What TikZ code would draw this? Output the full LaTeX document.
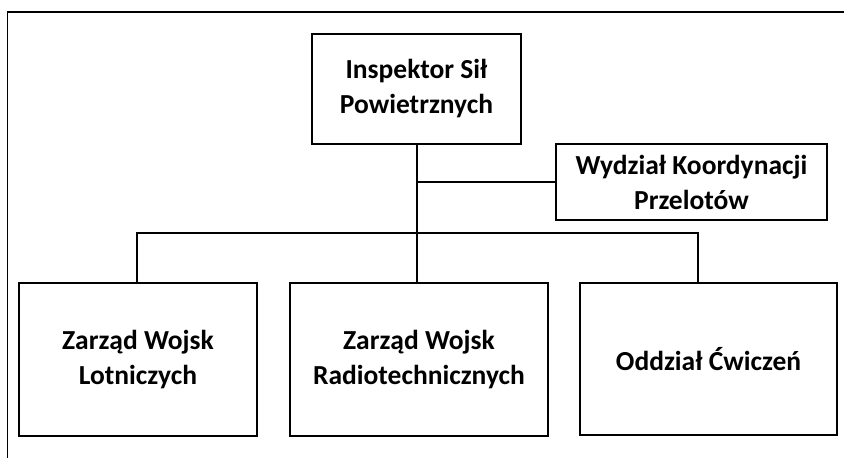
\documentclass[tikz,border=0pt]{standalone}
\usepackage{fontspec}
\setmainfont{Carlito}
\begin{document}
\begin{tikzpicture}[x=1pt,y=-1pt,
  unit/.style={draw=black, line width=2.4pt, align=center, inner sep=0pt,
    font=\bfseries\fontsize{27.5}{35}\selectfont, text=black},
  link/.style={draw=black, line width=2.1pt}]
  \useasboundingbox (0,0) rectangle (844,458);
  % page frame (left and top edges)
  \draw[line width=1.8pt] (7.5,458) -- (7.5,12) -- (844,12);

  % units
  \node[unit, minimum width=209pt, minimum height=110pt] (top) at (416.5,89)
    {Inspektor Sił\\Powietrznych};
  \node[unit, minimum width=271pt, minimum height=76pt] (wyd) at (691.5,182)
    {Wydział Koordynacji\\Przelotów};
  \node[unit, minimum width=238pt, minimum height=153pt] (zwl) at (138,359.5)
    {Zarząd Wojsk\\Lotniczych};
  \node[unit, minimum width=258pt, minimum height=153pt] (zwr) at (419,359.5)
    {Zarząd Wojsk\\Radiotechnicznych};
  \node[unit, minimum width=257pt, minimum height=152pt] (oc) at (708.5,359)
    {Oddział Ćwiczeń};

  % connectors
  \coordinate (bus) at (417,233);
  \coordinate (busL) at (137,233);
  \coordinate (busR) at (698,233);
  \draw[link] (top.south -| bus) -- (zwr.north -| bus);
  \draw[link] (wyd.west -| bus) -- (wyd.west);
  \draw[link] (zwl.north -| busL) -- (busL) -- (busR) -- (oc.north -| busR);
\end{tikzpicture}
\end{document}
